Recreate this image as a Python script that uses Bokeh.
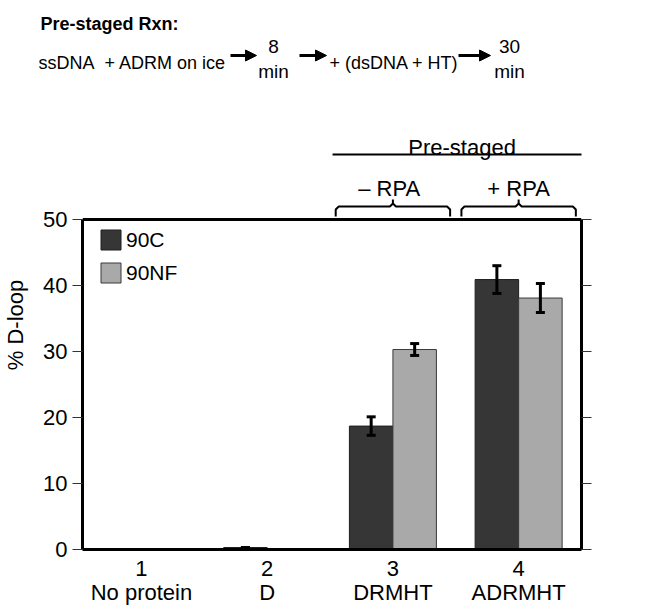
from bokeh.plotting import figure
from bokeh.layouts import column
from bokeh.models import (ColumnDataSource, Range1d, LinearAxis, FixedTicker, Span,
                          Arrow, NormalHead, TeeHead, Whisker)
from bokeh.core.properties import value
from bokeh.transform import dodge
from bokeh.embed import file_html
from bokeh.resources import INLINE

# ---------------- data ----------------
categories = [1, 2, 3, 4]
category_names = ["No protein", "D", "DRMHT", "ADRMHT"]
series_names = ["90C", "90NF"]
c90_values = [-0.3, 0.3, 18.7, 40.9]
c90_errors = [0.0, 0.0, 1.4, 2.1]
nf_values = [-0.3, -0.3, 30.3, 38.1]
nf_errors = [0.0, 0.0, 0.9, 2.2]
y_ticks = [0, 10, 20, 30, 40, 50]
group_labels = ["\u2013 RPA", "+ RPA"]          # over categories 3 and 4
group_title = "Pre-staged"

# ---------------- layout ----------------
W = 640
H_TOP = 100
H_MAIN = 511
L, R, T, B = 82, 581, 219, 549          # plot box in page pixels
X0, X1 = 0.531, 4.50
Y_TOP = 50 * (B - H_TOP) / (B - T)      # value at top of the main frame
DARK, LIGHT = "#363636", "#a9a9a9"
FONT = "Liberation Sans"
OFF = 0.173
BW = 0.346

# ================= top figure: reaction scheme =================
top = figure(width=W, height=H_TOP, x_range=Range1d(0, W), y_range=Range1d(H_TOP, 0),
             x_axis_location=None, y_axis_location=None, toolbar_location=None,
             output_backend="svg", min_border=0)
top.frame_align = False
top.xgrid.grid_line_color = None
top.ygrid.grid_line_color = None
top.outline_line_color = None

top.text(x=[40], y=[23], text=["Pre-staged Rxn:"], text_font=value(FONT),
         text_font_size="18px", text_font_style="bold", text_baseline="alphabetic",
         text_align="left", text_color="black")
top.text(x=[38, 104, 329], y=[62, 62, 62], text=["ssDNA", "+ ADRM on ice", "+ (dsDNA + HT)"],
         text_font=value(FONT), text_font_size="18px", text_baseline="alphabetic",
         text_align="left", text_color="black")
top.text(x=[273, 273, 509, 509], y=[46, 71, 46, 71], text=["8", "min", "30", "min"],
         text_font=value(FONT), text_font_size="19px", text_baseline="alphabetic",
         text_align="center", text_color="black")
for xs, xe in ((230, 256), (299, 326), (458, 490)):
    top.add_layout(Arrow(x_start=xs, y_start=55, x_end=xe, y_end=55,
                         line_width=3, line_color="black",
                         end=NormalHead(size=11, fill_color="black", line_color="black",
                                        line_width=1)))

# ================= main figure =================
src = ColumnDataSource(dict(
    cat=categories,
    c90=c90_values,
    c90_lo=[v - e for v, e in zip(c90_values, c90_errors)],
    c90_hi=[v + e for v, e in zip(c90_values, c90_errors)],
    nf=nf_values,
    nf_lo=[v - e for v, e in zip(nf_values, nf_errors)],
    nf_hi=[v + e for v, e in zip(nf_values, nf_errors)],
))

p = figure(width=W, height=H_MAIN, x_range=Range1d(X0, X1), y_range=Range1d(0, Y_TOP),
           x_axis_location=None, y_axis_location=None,
           toolbar_location=None, output_backend="svg",
           min_border_left=L, min_border_right=W - R,
           min_border_top=0, min_border_bottom=H_TOP + H_MAIN - B)
p.frame_align = False
p.xgrid.grid_line_color = None
p.ygrid.grid_line_color = None
p.outline_line_color = None
p.background_fill_color = "white"
p.border_fill_color = "white"

# bars
p.vbar(x=dodge("cat", -OFF, range=p.x_range), top="c90", width=BW, source=src,
       fill_color=DARK, line_color="#1e1e1e", line_width=1, legend_label=series_names[0])
p.vbar(x=dodge("cat", OFF, range=p.x_range), top="nf", width=BW, source=src,
       fill_color=LIGHT, line_color="#3a3a3a", line_width=1, legend_label=series_names[1])

# error bars
for key, off in (("c90", -OFF), ("nf", OFF)):
    p.add_layout(Whisker(source=src, base=dodge("cat", off, range=p.x_range),
                         lower=key + "_lo", upper=key + "_hi", level="overlay",
                         line_color="black", line_width=3,
                         lower_head=TeeHead(size=9, line_width=3, line_color="black"),
                         upper_head=TeeHead(size=9, line_width=3, line_color="black")))

# top border of the plot box
p.add_layout(Span(location=50, dimension="width", line_color="black", line_width=3))

# legend
lg = p.legend[0]
lg.location = (16, 264)
lg.glyph_width = 25
lg.glyph_height = 25
lg.label_height = 25
lg.spacing = 8
lg.padding = 0
lg.margin = 0
lg.label_standoff = 3
lg.label_text_font = FONT
lg.label_text_font_size = "21px"
lg.label_text_color = "black"
lg.border_line_color = None
lg.background_fill_alpha = 0


def y_axis(labels=True):
    ax = LinearAxis(ticker=FixedTicker(ticks=y_ticks), bounds=(0, 50))
    ax.axis_line_color = "black"
    ax.axis_line_width = 3
    ax.major_tick_in = 0
    ax.major_tick_out = 10
    ax.major_tick_line_color = "#333333"
    ax.major_tick_line_width = 1
    ax.minor_tick_line_color = None
    ax.major_label_text_font = FONT
    ax.major_label_text_font_size = "22px"
    ax.major_label_text_color = "black"
    ax.major_label_standoff = 5
    if labels:
        ax.axis_label = "% D-loop"
        ax.axis_label_text_font = FONT
        ax.axis_label_text_font_size = "22px"
        ax.axis_label_text_font_style = "normal"
        ax.axis_label_text_color = "black"
        ax.axis_label_standoff = 12
    else:
        ax.major_label_overrides = {t: "" for t in y_ticks}
    return ax


p.add_layout(y_axis(True), "left")
p.add_layout(y_axis(False), "right")

# x axes: numbers then names
xa_num = LinearAxis(ticker=FixedTicker(ticks=categories),
                    major_label_overrides={c: str(c) for c in categories})
xa_name = LinearAxis(ticker=FixedTicker(ticks=categories),
                     major_label_overrides=dict(zip(categories, category_names)))
for ax, standoff in ((xa_num, 11), (xa_name, 1)):
    ax.axis_line_color = None
    ax.major_tick_line_color = None
    ax.minor_tick_line_color = None
    ax.major_tick_in = 0
    ax.major_tick_out = 0
    ax.major_label_text_font = FONT
    ax.major_label_text_font_size = "22px"
    ax.major_label_text_color = "black"
    ax.major_label_standoff = standoff
    p.add_layout(ax, "below")
xa_num.axis_line_color = "black"
xa_num.axis_line_width = 3

# "Pre-staged" bracket with -RPA / +RPA braces over categories 3 and 4
bc = categories[2:]
mid = (bc[0] + bc[1]) / 2
p.text(x=[mid + 0.05], y=[60.9], text=[group_title], text_font=value(FONT),
       text_font_size="22px", text_align="center", text_baseline="alphabetic",
       text_color="black")
p.segment(x0=[bc[0] - 0.48], y0=[59.85], x1=[bc[1] + 0.52], y1=[59.85],
          line_color="black", line_width=2)
p.text(x=[bc[0] - 0.03, bc[1]], y=[54.7, 54.7], text=group_labels, text_font=value(FONT),
       text_font_size="22px", text_align="center", text_baseline="alphabetic",
       text_color="black")

HW, RX, RY = 0.455, 0.024, 0.45
Y_END, Y_H, Y_TIP = 50.45, 51.97, 53.03
bxs, bys = [], []
for c in bc:
    xa, xb = c - HW, c + HW
    bxs.append([xa, xa, xa + RX, c - RX, c, c])
    bys.append([Y_END, Y_H - RY, Y_H, Y_H, Y_H + RY, Y_TIP])
    bxs.append([xb, xb, xb - RX, c + RX, c])
    bys.append([Y_END, Y_H - RY, Y_H, Y_H, Y_H + RY])
p.multi_line(xs=bxs, ys=bys, line_color="black", line_width=2)

layout = column(top, p, spacing=0)
open("out.html", "w").write(file_html(layout, INLINE))
